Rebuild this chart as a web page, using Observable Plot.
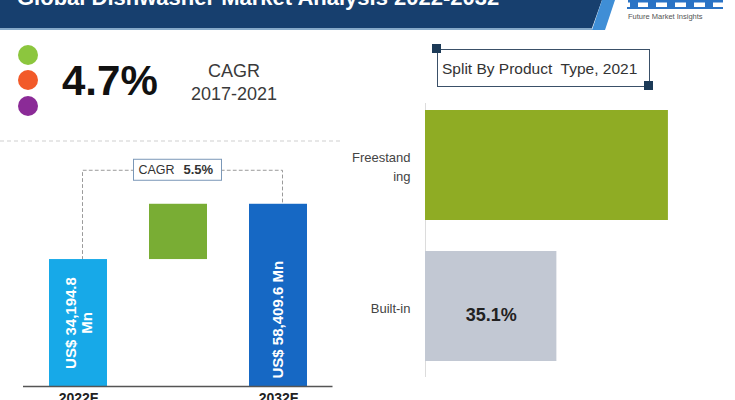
<!DOCTYPE html>
<html><head><meta charset="utf-8">
<script src="https://cdn.jsdelivr.net/npm/d3@7"></script>
<script src="https://cdn.jsdelivr.net/npm/@observablehq/plot@0.6"></script>
<style>
body{margin:0;width:735px;height:400px;overflow:hidden;position:relative;background:#fff;font-family:"Liberation Sans",Arial,sans-serif}
.abs{position:absolute}
#split{left:437px;top:49px;width:211px;height:36px;border:1px solid #3a5068;box-sizing:content-box}
#split span{position:absolute;left:4px;top:11px;font-size:15.5px;color:#333;white-space:pre;line-height:1}
.sq{position:absolute;width:9px;height:9px;background:#1c3a57}
</style></head><body>
<svg class="abs" style="left:0;top:0" width="735" height="145">
  <polygon points="0,0 602,0 592,28 0,28" fill="#173f6e"/>
  <rect x="0" y="28" width="592" height="2" fill="#86a9c8"/>
  <polygon points="602,0 615,0 605,30 592,30" fill="#3f8ed6"/>
  <text x="17" y="5" fill="#fff" font-weight="bold" font-size="22">Global Dishwasher Market Analysis 2022-2032</text>
  <g fill="#2a73c5">
    <rect x="628" y="0" width="95" height="2.5"/>
    <rect x="630" y="0" width="8" height="8"/>
    <rect x="648" y="0" width="8" height="8"/>
    <rect x="667" y="0" width="8" height="8"/>
    <rect x="686" y="0" width="8" height="8"/>
    <rect x="705" y="0" width="8" height="8"/>
    <rect x="627" y="7" width="96" height="2"/>
  </g>
  <text x="628" y="19" font-size="7.5" fill="#555">Future Market Insights</text>
  <circle cx="28" cy="55" r="10" fill="#8cc63e"/>
  <circle cx="28" cy="80" r="10" fill="#f25a29"/>
  <circle cx="28" cy="106" r="10" fill="#8b2b97"/>
  <text id="kpi" x="62" y="95" font-size="42" font-weight="bold" fill="#111"></text>
  <text id="kpiA" x="234" y="77" font-size="18" fill="#3a3a3a" text-anchor="middle">CAGR</text>
  <text id="kpiB" x="234" y="100" font-size="18" fill="#3a3a3a" text-anchor="middle"></text>
  <line x1="0" y1="141" x2="343" y2="141" stroke="#cfcfcf" stroke-dasharray="4,3"/>
</svg>
<div id="split" class="abs"><span>Split By Product  Type, 2021</span></div>
<div class="sq" style="left:432px;top:44px"></div>
<div class="sq" style="left:644px;top:81px"></div>
<div id="left" class="abs" style="left:0;top:145px"></div>
<div id="right" class="abs" style="left:330px;top:90px"></div>
<script>
// ---- data ----
const years = ["2022F", "2032F"];
const marketValues = [34194.8, 58409.6];
const marketLabels = ["US$ 34,194.8\nMn", "US$ 58,409.6 Mn"];
const cagrForecast = "5.5%";
const cagrHistoric = "4.7%";
const cagrHistoricPeriod = "2017-2021";
const productTypes = ["Freestanding", "Built-in"];
const productLabels = ["Freestand\ning", "Built-in"];
const productShares = [64.9, 35.1];

// ---- styles ----
const yearColors = ["#17a9e8", "#1668c4"];
const growthColor = "#79ad34";
const productColors = ["#8fac24", "#c2c8d3"];

document.getElementById("kpi").textContent = cagrHistoric;
document.getElementById("kpiB").textContent = cagrHistoricPeriod;

// ---- left: waterfall ----
const GAP = "growth";
const base = 10000;
const bracketLevel = d3.max(marketValues) * 1.39;
const barsData = years.map((y, i) => ({year: y, value: marketValues[i], label: marketLabels[i]}));
const multiLine = barsData.filter(d => d.label.includes("\n"));
const singleLine = barsData.filter(d => !d.label.includes("\n"));

const left = Plot.plot({
  width: 335, height: 275,
  marginTop: 0, marginBottom: 34, marginLeft: 23, marginRight: 2.5,
  style: {fontFamily: "Liberation Sans, Arial, sans-serif", color: "#222", background: "transparent"},
  x: {domain: [years[0], GAP, years[1]], paddingInner: 0.42, paddingOuter: 0.25, align: 0.5, axis: null},
  y: {type: "log", domain: [base, 103200], axis: null},
  color: {domain: years, range: yearColors},
  marks: [
    Plot.line([[years[0], marketValues[0]], [years[0], bracketLevel], [years[1], bracketLevel], [years[1], marketValues[1]]],
      {x: d => d[0], y: d => d[1], stroke: "#9a9a9a", strokeDasharray: "3,3", strokeWidth: 1, dx: 4}),
    Plot.barY(barsData, {x: "year", y1: base, y2: "value", fill: "year"}),
    Plot.barY([GAP], {x: d => d, y1: () => marketValues[0], y2: () => marketValues[1], fill: growthColor}),
    Plot.ruleY([base], {stroke: "#555", strokeWidth: 1.5}),
    Plot.text(multiLine, {x: "year", y: d => Math.sqrt(base * d.value), text: "label", rotate: -90,
      fill: "white", fontWeight: "bold", fontSize: 15, lineHeight: 1.1}),
    Plot.text(singleLine, {x: "year", y: base, dy: -8, text: "label", rotate: -90, textAnchor: "start",
      fill: "white", fontWeight: "bold", fontSize: 15}),
    Plot.axisX({ticks: years, tickSize: 0, tickPadding: 7, fontSize: 14, fontWeight: "bold"}),
    Plot.text([GAP], {x: d => d, y: () => bracketLevel, text: () => "CAGR", textAnchor: "end", dx: -4, fontSize: 12.5, fill: "#333"}),
    Plot.text([GAP], {x: d => d, y: () => bracketLevel, text: () => cagrForecast, textAnchor: "start", dx: 5, fontSize: 13, fontWeight: "bold", fill: "#333"})
  ]
});
{
  const xs = left.scale("x"), ys = left.scale("y");
  const cx = xs.apply(GAP) + xs.bandwidth / 2, cy = ys.apply(bracketLevel);
  const r = document.createElementNS("http://www.w3.org/2000/svg", "rect");
  r.setAttribute("x", cx - 44.5); r.setAttribute("y", cy - 10.5);
  r.setAttribute("width", 88); r.setAttribute("height", 21);
  r.setAttribute("fill", "#fff"); r.setAttribute("stroke", "#7b98b8");
  const kids = left.children;
  left.insertBefore(r, kids[kids.length - 2]);
}
document.getElementById("left").appendChild(left);

// ---- right: product split ----
const shareData = productTypes.map((t, i) => ({type: t, share: productShares[i], label: productLabels[i]}));
const right = Plot.plot({
  width: 405, height: 310,
  marginLeft: 95, marginRight: 48, marginTop: 4, marginBottom: 23,
  style: {fontFamily: "Liberation Sans, Arial, sans-serif", background: "transparent"},
  x: {domain: [0, 70], axis: null},
  y: {domain: productTypes, paddingInner: 0.22, paddingOuter: 0.11, axis: null},
  color: {domain: productTypes, range: productColors},
  marks: [
    Plot.ruleX([0], {stroke: "#dcdcdc", insetTop: 9}),
    Plot.barX(shareData, {y: "type", x1: 0, x2: "share", fill: "type"}),
    Plot.text(shareData, {y: "type", x: 0, text: "label", textAnchor: "end", dx: -15, fontSize: 13, fill: "#444", lineHeight: 1.5}),
    Plot.text(shareData.filter(d => d.type === "Built-in"), {y: "type", x: d => d.share / 2, dy: 9,
      text: d => d.share.toFixed(1) + "%", fontSize: 18, fontWeight: 600, fill: "#222"})
  ]
});
document.getElementById("right").appendChild(right);
</script>
</body></html>
